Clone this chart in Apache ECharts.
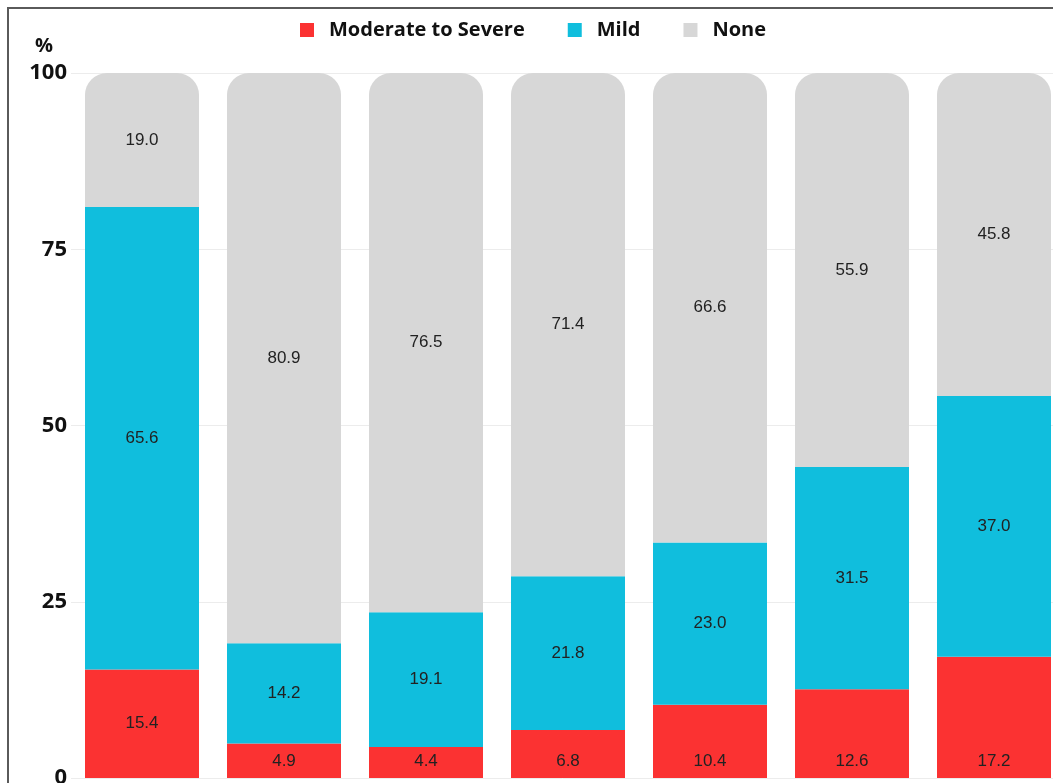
<!DOCTYPE html>
<html>
<head>
<meta charset="utf-8">
<script src="https://cdn.jsdelivr.net/npm/echarts@6/dist/echarts.min.js"></script>
<style>
  html, body { margin: 0; padding: 0; background: #fff; overflow: hidden; }
  #chart { position: absolute; left: 0; top: 0; width: 1053px; height: 783px; }
  #frame { position: absolute; left: 7px; top: 7px; width: 1200px; height: 1000px;
           border-left: 2px solid #5a5a5a; border-top: 2px solid #5a5a5a; pointer-events: none; }
</style>
</head>
<body>
<div id="chart"></div>
<div id="frame"></div>
<script>
// 各组数据（%）
const categories = ['G1', 'G2', 'G3', 'G4', 'G5', 'G6', 'G7'];
const severe = [15.4, 4.9, 4.4, 6.8, 10.4, 12.6, 17.2];
const mild = [65.6, 14.2, 19.1, 21.8, 23.0, 31.5, 37.0];
const none = [19.0, 80.9, 76.5, 71.4, 66.6, 55.9, 45.8];
const seriesNames = ['Moderate to Severe', 'Mild', 'None'];
const yTicks = [0, 25, 50, 75, 100];

const colors = ['#fb3232', '#10bedd', '#d7d7d7'];
const chart = echarts.init(document.getElementById('chart'));

const labelStyle = {
    show: true,
    position: 'inside',
    color: '#222',
    fontFamily: 'Liberation Sans',
    fontSize: 17,
    formatter: p => p.value.toFixed(1)
};

function makeSeries(name, data, idx) {
    let s = {
        name: name,
        type: 'bar',
        stack: 'total',
        data: data,
        barWidth: 114,
        itemStyle: {color: colors[idx]},
        label: labelStyle,
        emphasis: {disabled: true}
    };
    if (idx === 2) {
        s.itemStyle.borderRadius = [22, 22, 0, 0];
    }
    return s;
}

// 红色标签除第一组外都贴底显示
const severeData = severe.map((v, i) => i === 0 ? v : {
    value: v,
    label: {position: 'insideBottom', distance: 8}
});

const boldText = {
    fontFamily: 'Open Sans',
    fontWeight: 'bold',
    color: '#111'
};

chart.setOption({
    animation: false,
    color: colors,
    legend: {
        top: 15,
        left: 295,
        icon: 'rect',
        itemWidth: 14,
        itemHeight: 14,
        itemGap: 43,
        textStyle: Object.assign({fontSize: 20, padding: [0, 0, 0, 10]}, boldText),
        data: seriesNames
    },
    grid: {
        left: 71,
        top: 73,
        width: 994,
        height: 705,
        outerBoundsMode: 'none'
    },
    xAxis: {
        type: 'category',
        data: categories,
        axisLine: {show: false},
        axisTick: {show: false},
        axisLabel: {show: false}
    },
    yAxis: {
        type: 'value',
        min: 0,
        max: 100,
        interval: 25,
        name: '%',
        nameLocation: 'end',
        nameGap: 17,
        nameTextStyle: Object.assign({fontSize: 20, align: 'right', padding: [0, 18, 0, 0]}, boldText),
        axisLabel: Object.assign({
            fontSize: 22,
            margin: 4,
            formatter: v => yTicks.indexOf(v) >= 0 ? String(v) : ''
        }, boldText),
        splitLine: {lineStyle: {color: '#ececec', width: 1}}
    },
    series: [
        makeSeries(seriesNames[0], severeData, 0),
        makeSeries(seriesNames[1], mild, 1),
        makeSeries(seriesNames[2], none, 2)
    ]
});
</script>
</body>
</html>
